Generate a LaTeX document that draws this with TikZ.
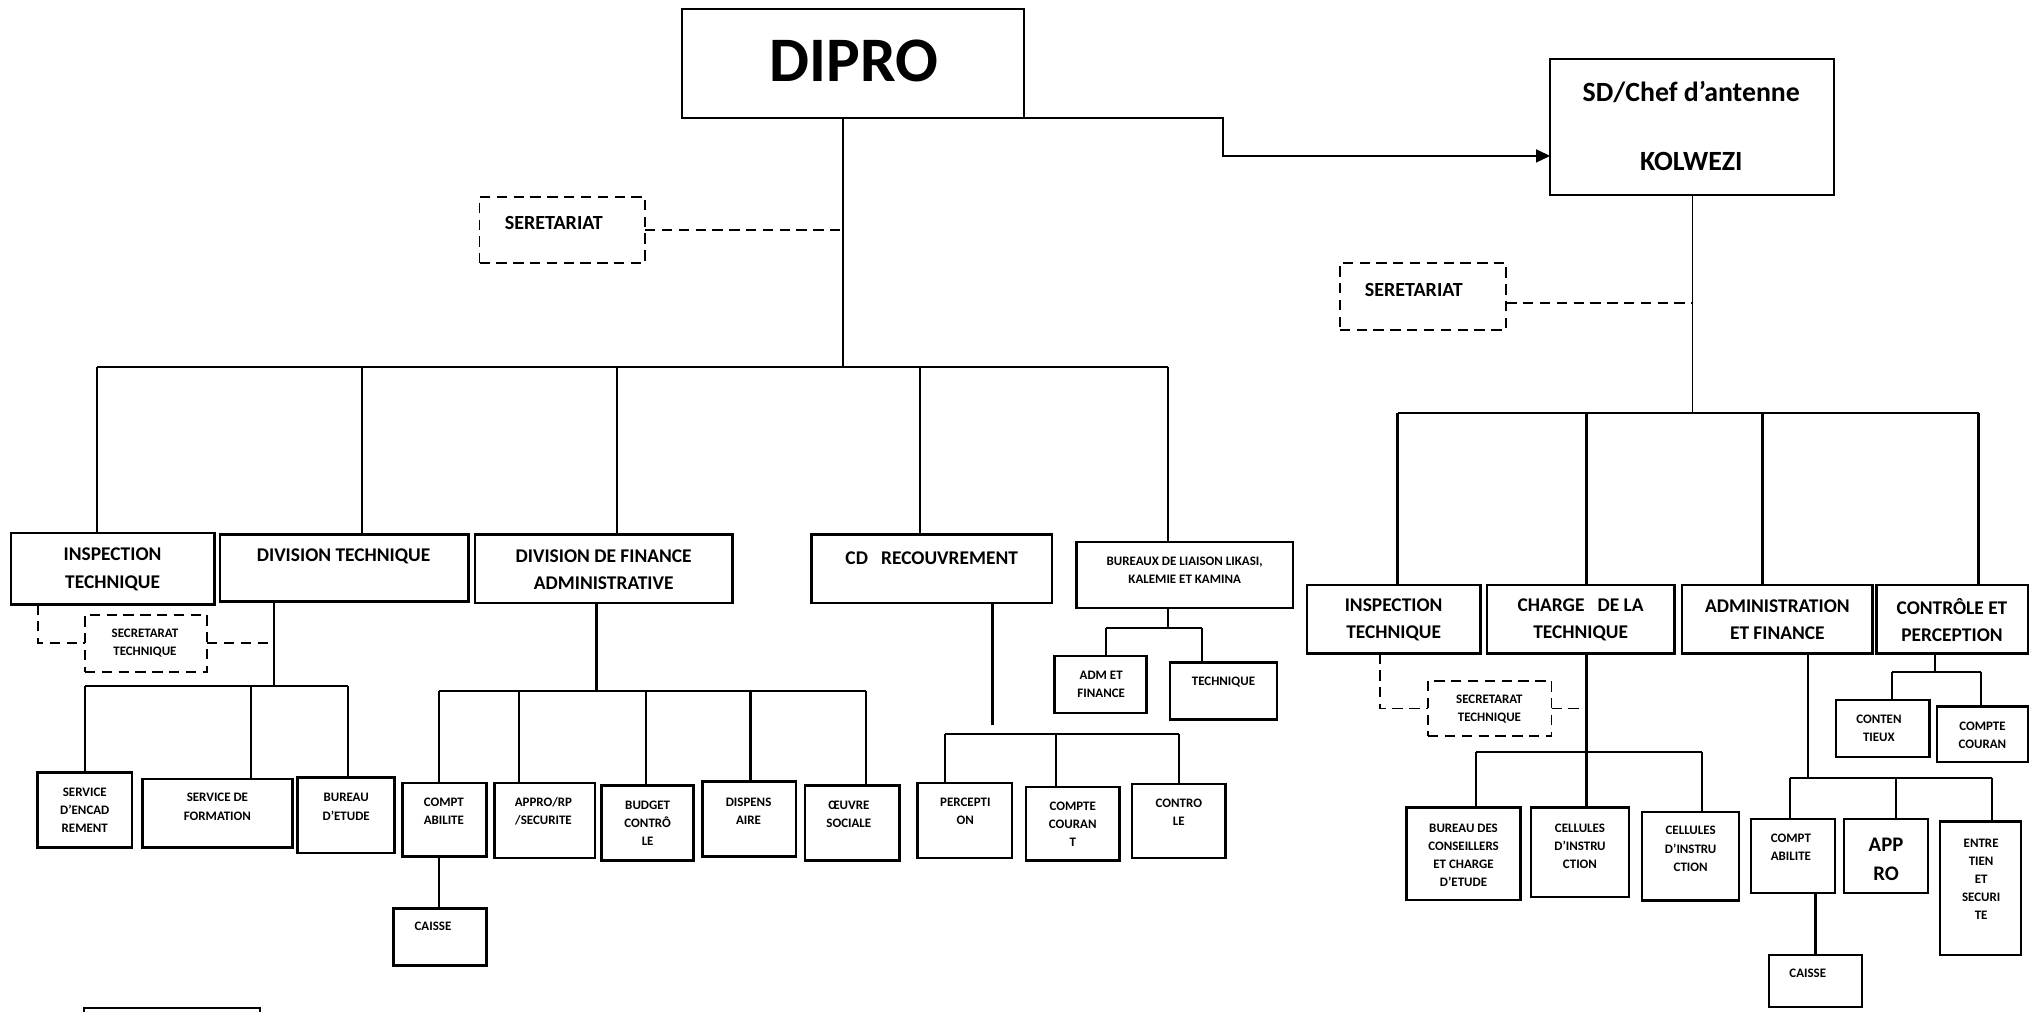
\documentclass[tikz,border=0pt]{standalone}
\usepackage{fontspec}
\setmainfont{Carlito}
\usetikzlibrary{arrows.meta}
\newcommand\obx[9]{%
  \node[#2, minimum width={(#5-#3)*1pt}, minimum height={(#6-#4)*1pt}] (#1) at ({(#3+#5)/2},{(#4+#6)/2}) {};
  \node[#7] (#1-t) at #8 {#9};}
\begin{document}
\begin{tikzpicture}[x=1pt,y=-1pt,
  box/.style={draw, rectangle, line width=1.9pt, inner sep=0pt, outer sep=0pt},
  thinbox/.style={draw, rectangle, line width=1.4pt, inner sep=0pt, outer sep=0pt},
  dbox/.style={draw, rectangle, line width=1.4pt, dash pattern=on 8pt off 5pt, inner sep=0pt, outer sep=0pt},
  conn/.style={line width=1.7pt},
  thinconn/.style={line width=1.4pt},
  dconn/.style={line width=1.4pt, dash pattern=on 8pt off 5pt},
  tL/.style={font=\bfseries\fontsize{15}{21}\selectfont, align=center, inner sep=0pt},
  tS/.style={font=\bfseries\fontsize{10}{14}\selectfont, align=center, inner sep=0pt},
  tSec/.style={font=\bfseries\fontsize{15.5}{20}\selectfont, inner sep=0pt},
  tSD/.style={font=\bfseries\fontsize{21.5}{26}\selectfont, inner sep=0pt},
  tBig/.style={font=\bfseries\fontsize{49}{52}\selectfont, inner sep=0pt},
  tApp/.style={font=\bfseries\fontsize{16}{22}\selectfont, align=center, inner sep=0pt}]
\fill[white] (0,0) rectangle (1568,782);
\useasboundingbox (0,0) rectangle (1568,782);
\clip (0,0) rectangle (1568,782);

% ---------- top ----------
\obx{dipro}{thinbox}{527}{7}{791.6}{91.5}{tBig}{(660,47)}{DIPRO}
\node[thinbox, minimum width=219pt, minimum height=105.6pt] (sd) at (1307.5,98.2) {};
\node[tSD] (sd-t1) at (1307,71) {SD/Chef d’antenne};
\node[tSD] (sd-t2) at (1307,125) {KOLWEZI};
\obx{secL}{dbox}{370.6}{152}{498.5}{203.5}{tSec}{(428,172)}{SERETARIAT}
\obx{secR}{dbox}{1035.4}{203}{1164}{255}{tSec}{(1092.6,224)}{SERETARIAT}

\draw[thinconn, -{Triangle[length=11pt,width=10pt]}] (dipro.south east) -- (945,91.5) -- (945,120.5) -- (sd.west |- 0,120.5);
\draw[thinconn] (dipro.south -| 651.6,0) -- (651.6,283.6);
\draw[dconn] (secL.east) -- (secL.east -| 651.6,0);
\draw[thinconn] (sd.south -| 1308,0) -- (1308,319);
\draw[dconn] (secR.east |- 0,234) -- (1308,234);

% ---------- left level 1 ----------
\obx{inspL}{box}{8.5}{412}{165.6}{467}{tL}{(87,440)}{INSPECTION\\TECHNIQUE}
\obx{divT}{box}{170}{413}{362}{465}{tL}{(265.5,430)}{DIVISION TECHNIQUE}
\obx{divF}{box}{367}{413}{566}{466}{tL}{(466.5,440.5)}{DIVISION DE FINANCE\\ADMINISTRATIVE}
\obx{cdR}{box}{627}{413}{813}{466}{tL}{(720,431)}{CD\ \ \ RECOUVREMENT}
\obx{bur}{box}{832}{419}{999}{470}{tS}{(915.5,441)}{BUREAUX DE LIAISON LIKASI,\\KALEMIE ET KAMINA}

\draw[conn] (75,283.6) -- (902.6,283.6);
\draw[conn] (75,283.6) -- (inspL.north -| 75,0);
\draw[conn] (279.5,283.6) -- (divT.north -| 279.5,0);
\draw[conn] (477,283.6) -- (divF.north -| 477,0);
\draw[conn] (710.7,283.6) -- (cdR.north -| 710.7,0);
\draw[conn] (902.6,283.6) -- (bur.north -| 902.6,0);

% ---------- under INSPECTION / DIVISION TECHNIQUE ----------
\obx{secTL}{dbox}{65.6}{475}{160}{519}{tS}{(112,497)}{SECRETARAT\\TECHNIQUE}
\draw[dconn] (inspL.south -| 29.4,0) |- (secTL.west);
\draw[dconn] (secTL.east) -- (secTL.east -| 211.6,0);
\draw[conn] (divT.south -| 211.6,0) -- (211.6,530);
\draw[conn] (65.6,530) -- (269,530);

\obx{serv1}{box}{29}{597}{102}{655}{tS}{(65.5,626)}{SERVICE\\D’ENCAD\\REMENT}
\obx{serv2}{box}{110}{602}{226}{655}{tS}{(168,623.5)}{SERVICE DE\\FORMATION}
\obx{bureauE}{box}{230}{601}{305}{659}{tS}{(267.5,623.5)}{BUREAU\\D’ETUDE}
\draw[conn] (65.6,530) -- (serv1.north -| 65.6,0);
\draw[conn] (194,530) -- (serv2.north -| 194,0);
\draw[conn] (269,530) -- (bureauE.north -| 269,0);

% ---------- under DIVISION DE FINANCE ----------
\draw[conn] (divF.south -| 461,0) -- (461,534);
\draw[conn] (339,534) -- (669,534);
\obx{compL}{box}{311}{605}{376}{662}{tS}{(343,627)}{COMPT\\ABILITE}
\obx{appro}{box}{382}{605}{460}{663}{tS}{(420,627)}{APPRO/RP\\/SECURITE}
\obx{budget}{box}{465}{607}{536}{665}{tS}{(500.5,636)}{BUDGET\\CONTRÔ\\LE}
\obx{dispens}{box}{543}{604}{615}{662}{tS}{(578.5,627)}{DISPENS\\AIRE}
\obx{oeuvre}{box}{622}{607}{695}{665}{tS}{(656,629)}{ŒUVRE\\SOCIALE}
\draw[conn] (339,534) -- (compL.north -| 339,0);
\draw[conn] (401,534) -- (appro.north -| 401,0);
\draw[conn] (499,534) -- (budget.north -| 499,0);
\draw[conn] (580,534) -- (dispens.north -| 580,0);
\draw[conn] (669,534) -- (oeuvre.north -| 669,0);
\obx{caisseL}{box}{304}{702}{376}{746}{tS}{(334.6,716)}{CAISSE}
\draw[conn] (compL.south -| 339,0) -- (caisseL.north -| 339,0);

% ---------- under CD RECOUVREMENT ----------
\draw[conn] (cdR.south -| 767,0) -- (767,560);
\draw[conn] (730,567) -- (911,567);
\obx{perc}{box}{709}{605}{782}{663}{tS}{(746,627)}{PERCEPTI\\ON}
\obx{cc}{box}{793}{608}{865}{665}{tS}{(829,637)}{COMPTE\\COURAN\\T}
\obx{contro}{box}{875}{606}{947}{663}{tS}{(911,627.5)}{CONTRO\\LE}
\draw[conn] (730,567) -- (perc.north -| 730,0);
\draw[conn] (816,567) -- (cc.north -| 816,0);
\draw[conn] (911,567) -- (contro.north -| 911,0);

% ---------- under BUREAUX ----------
\draw[conn] (bur.south -| 902.6,0) -- (902.6,485);
\draw[conn] (855,485) -- (929,485);
\obx{admF}{box}{815}{507}{886}{551}{tS}{(851,529)}{ADM ET\\FINANCE}
\obx{techB}{box}{904}{512}{987}{556}{tS}{(945.5,527)}{TECHNIQUE}
\draw[conn] (855,485) -- (admF.north -| 855,0);
\draw[conn] (929,485) -- (techB.north -| 929,0);

% partial box at bottom edge
\node[box, minimum width=136pt, minimum height=30pt] (partial) at (133,794) {};

% ---------- right level 1 ----------
\draw[conn] (1080,319) -- (1529,319);
\obx{inspR}{box}{1010}{452}{1144}{505}{tL}{(1077,479)}{INSPECTION\\TECHNIQUE}
\obx{charge}{box}{1149}{452}{1294}{505}{tL}{(1221.5,479)}{CHARGE\ \ \ DE LA\\TECHNIQUE}
\obx{admin}{box}{1300}{452}{1447}{505}{tL}{(1373.5,479)}{ADMINISTRATION\\ET FINANCE}
\obx{ctrl}{box}{1450}{452}{1567}{505}{tL}{(1508.5,479)}{CONTRÔLE ET\\PERCEPTION}
\draw[conn] (1080,319) -- (inspR.north -| 1080,0);
\draw[conn] (1226,319) -- (charge.north -| 1226,0);
\draw[conn] (1362,319) -- (admin.north -| 1362,0);
\draw[conn] (1529,319) -- (ctrl.north -| 1529,0);

% ---------- under INSPECTION / CHARGE (right) ----------
\obx{secTR}{dbox}{1103.6}{526}{1199}{569}{tS}{(1151,548)}{SECRETARAT\\TECHNIQUE}
\draw[dconn] (inspR.south -| 1066.5,0) |- (secTR.west);
\draw[dconn] (secTR.east) -- (secTR.east -| 1226,0);
\obx{bcons}{box}{1087}{624}{1175}{695.6}{tS}{(1131,661)}{BUREAU DES\\CONSEILLERS\\ET CHARGE\\D’ETUDE}
\obx{cel1}{box}{1183}{624}{1259}{693}{tS}{(1221,654)}{CELLULES\\D’INSTRU\\CTION}
\obx{cel2}{box}{1269}{627.5}{1344}{696}{tS}{(1306.5,656)}{CELLULES\\D’INSTRU\\CTION}
\draw[conn] (charge.south -| 1226,0) -- (cel1.north -| 1226,0);
\draw[conn] (1140.5,581) -- (1315,581);
\draw[conn] (1140.5,581) -- (bcons.north -| 1140.5,0);
\draw[conn] (1315,581) -- (cel2.north -| 1315,0);

% ---------- under ADMINISTRATION ET FINANCE ----------
\draw[conn] (admin.south -| 1397,0) -- (1397,601);
\draw[conn] (1383,601) -- (1539.5,601);
\obx{compR}{box}{1353}{633}{1418}{690}{tS}{(1384,655)}{COMPT\\ABILITE}
\obx{appR}{box}{1425}{633}{1490}{690}{tApp}{(1457.5,664)}{APP\\RO}
\obx{entR}{box}{1499}{635}{1562}{738}{tS}{(1531,679.5)}{ENTRE\\TIEN\\ET\\SECURI\\TE}
\draw[conn] (1383,601) -- (compR.north -| 1383,0);
\draw[conn] (1465,601) -- (appR.north -| 1465,0);
\draw[conn] (1539.5,601) -- (entR.north -| 1539.5,0);
\obx{caisseR}{box}{1367}{738}{1439}{778}{tS}{(1397,752)}{CAISSE}
\draw[conn] (compR.south -| 1403,0) -- (caisseR.north -| 1403,0);

% ---------- under CONTROLE ET PERCEPTION ----------
\draw[conn] (ctrl.south -| 1495.6,0) -- (1495.6,519);
\draw[conn] (1462,519) -- (1531,519);
\obx{cont}{box}{1419}{541}{1491}{585}{tS}{(1452,563)}{CONTEN\\TIEUX}
\obx{ccR}{box}{1497}{546}{1567}{589}{tS}{(1532,568.5)}{COMPTE\\COURAN}
\draw[conn] (1462,519) -- (cont.north -| 1462,0);
\draw[conn] (1531,519) -- (ccR.north -| 1531,0);
\end{tikzpicture}
\end{document}
